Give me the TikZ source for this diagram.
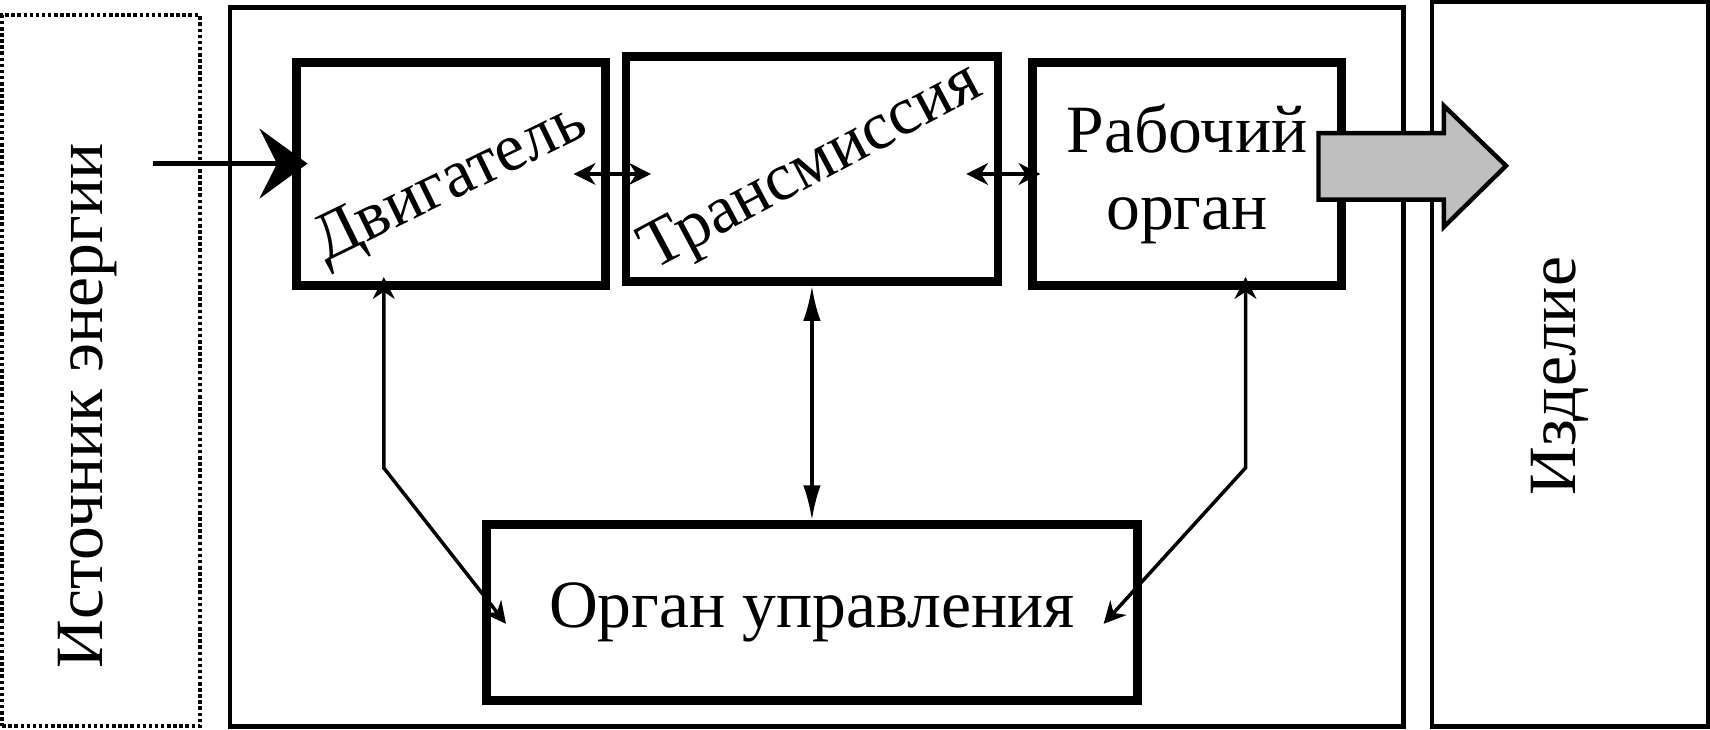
\documentclass[tikz,border=0pt]{standalone}
\usepackage{fontspec}
\setmainfont{Liberation Serif}
\usetikzlibrary{positioning}
\usetikzlibrary{arrows.meta}

\begin{document}
\begin{tikzpicture}[x=0.25pt, y=-0.25pt,
			every node/.style = {font=\fontsize{15.5}{17.5}\selectfont},
			frame/.style = {draw, line width=1pt, inner sep=0pt},
			block/.style = {draw, line width=2pt, inner sep=0pt, align=center},
			link/.style = {line width=0.8pt, {Stealth[length=5pt,width=5pt]}-{Stealth[length=5pt,width=5pt]}},
			feed/.style = {line width=1pt, -{Stealth[length=11pt,width=16pt,inset=4pt]}},
			bigout/.style = {draw, line width=1pt, fill=black!25, line join=miter}]
			\useasboundingbox (0,0) rectangle (1568,669);
			\node (src) [frame, line width=0.9pt, dash pattern=on 0.8pt off 0.6pt,
			minimum width=45.25pt, minimum height=163pt] at (92.5,340) {};
			\node (srctxt) [rotate=90] at (80,372) {Источник энергии};
			\node (mach) [frame, minimum width=269pt, minimum height=164.75pt] at (749,336.5) {};
			\node (izd) [frame, minimum width=63.25pt, minimum height=166pt] at (1439.5,334) {};
			\node (izdtxt) [rotate=90] at (1430,345) {Изделие};
			\node (dvig) [block, minimum width=70.75pt, minimum height=51.25pt] at (413.5,159.5) {};
			\node (trans) [block, right=2.75pt of dvig, yshift=1.1pt,
			minimum width=85.25pt, minimum height=51.5pt] {};
			\node (rab) [block, right=6pt of trans, yshift=-1.1pt,
			minimum width=70.75pt, minimum height=51.25pt] {Рабочий\\орган};
			\node (upr) [block, below=53.75pt of trans,
			minimum width=149.25pt, minimum height=40.25pt] {Орган управления};
			\node (dvigtxt) [rotate=26] at ([yshift=-2.5pt]dvig.center) {Двигатель};
			\node (transtxt) [rotate=28] at (trans.center) {Трансмиссия};
			\coordinate (in) at (140,150);
			\draw [feed] (in) -- ([xshift=3.5pt]dvig.west |- in);
			\draw [link] ([xshift=-8.25pt]dvig.east) -- ([xshift=6.75pt]trans.west |- dvig.east);
			\draw [link] ([xshift=-8.25pt]trans.east |- rab.east) -- ([xshift=2.75pt]rab.west);
			\draw [link, {Latex[length=8pt,width=4pt]}-{Latex[length=8pt,width=4pt]}]
			(trans.south) -- (trans.south |- upr.north);
			\draw [link] ([xshift=-15.4pt, yshift=3pt]dvig.south) -- ++(0,175)
			-- ([xshift=5.5pt, yshift=-2.6pt]upr.west);
			\draw [link] ([xshift=13.4pt, yshift=3pt]rab.south) -- ++(0,175)
			-- ([xshift=-8.75pt, yshift=-2.6pt]upr.east);
			\draw [bigout] ([shift={(-25,-37.5)}]rab.east) -- ++(115,0) -- ++(0,-25)
			-- ++(57,55) -- ++(-57,56) -- ++(0,-25) -- ++(-115,0) -- cycle;
		\end{tikzpicture}
\end{document}
